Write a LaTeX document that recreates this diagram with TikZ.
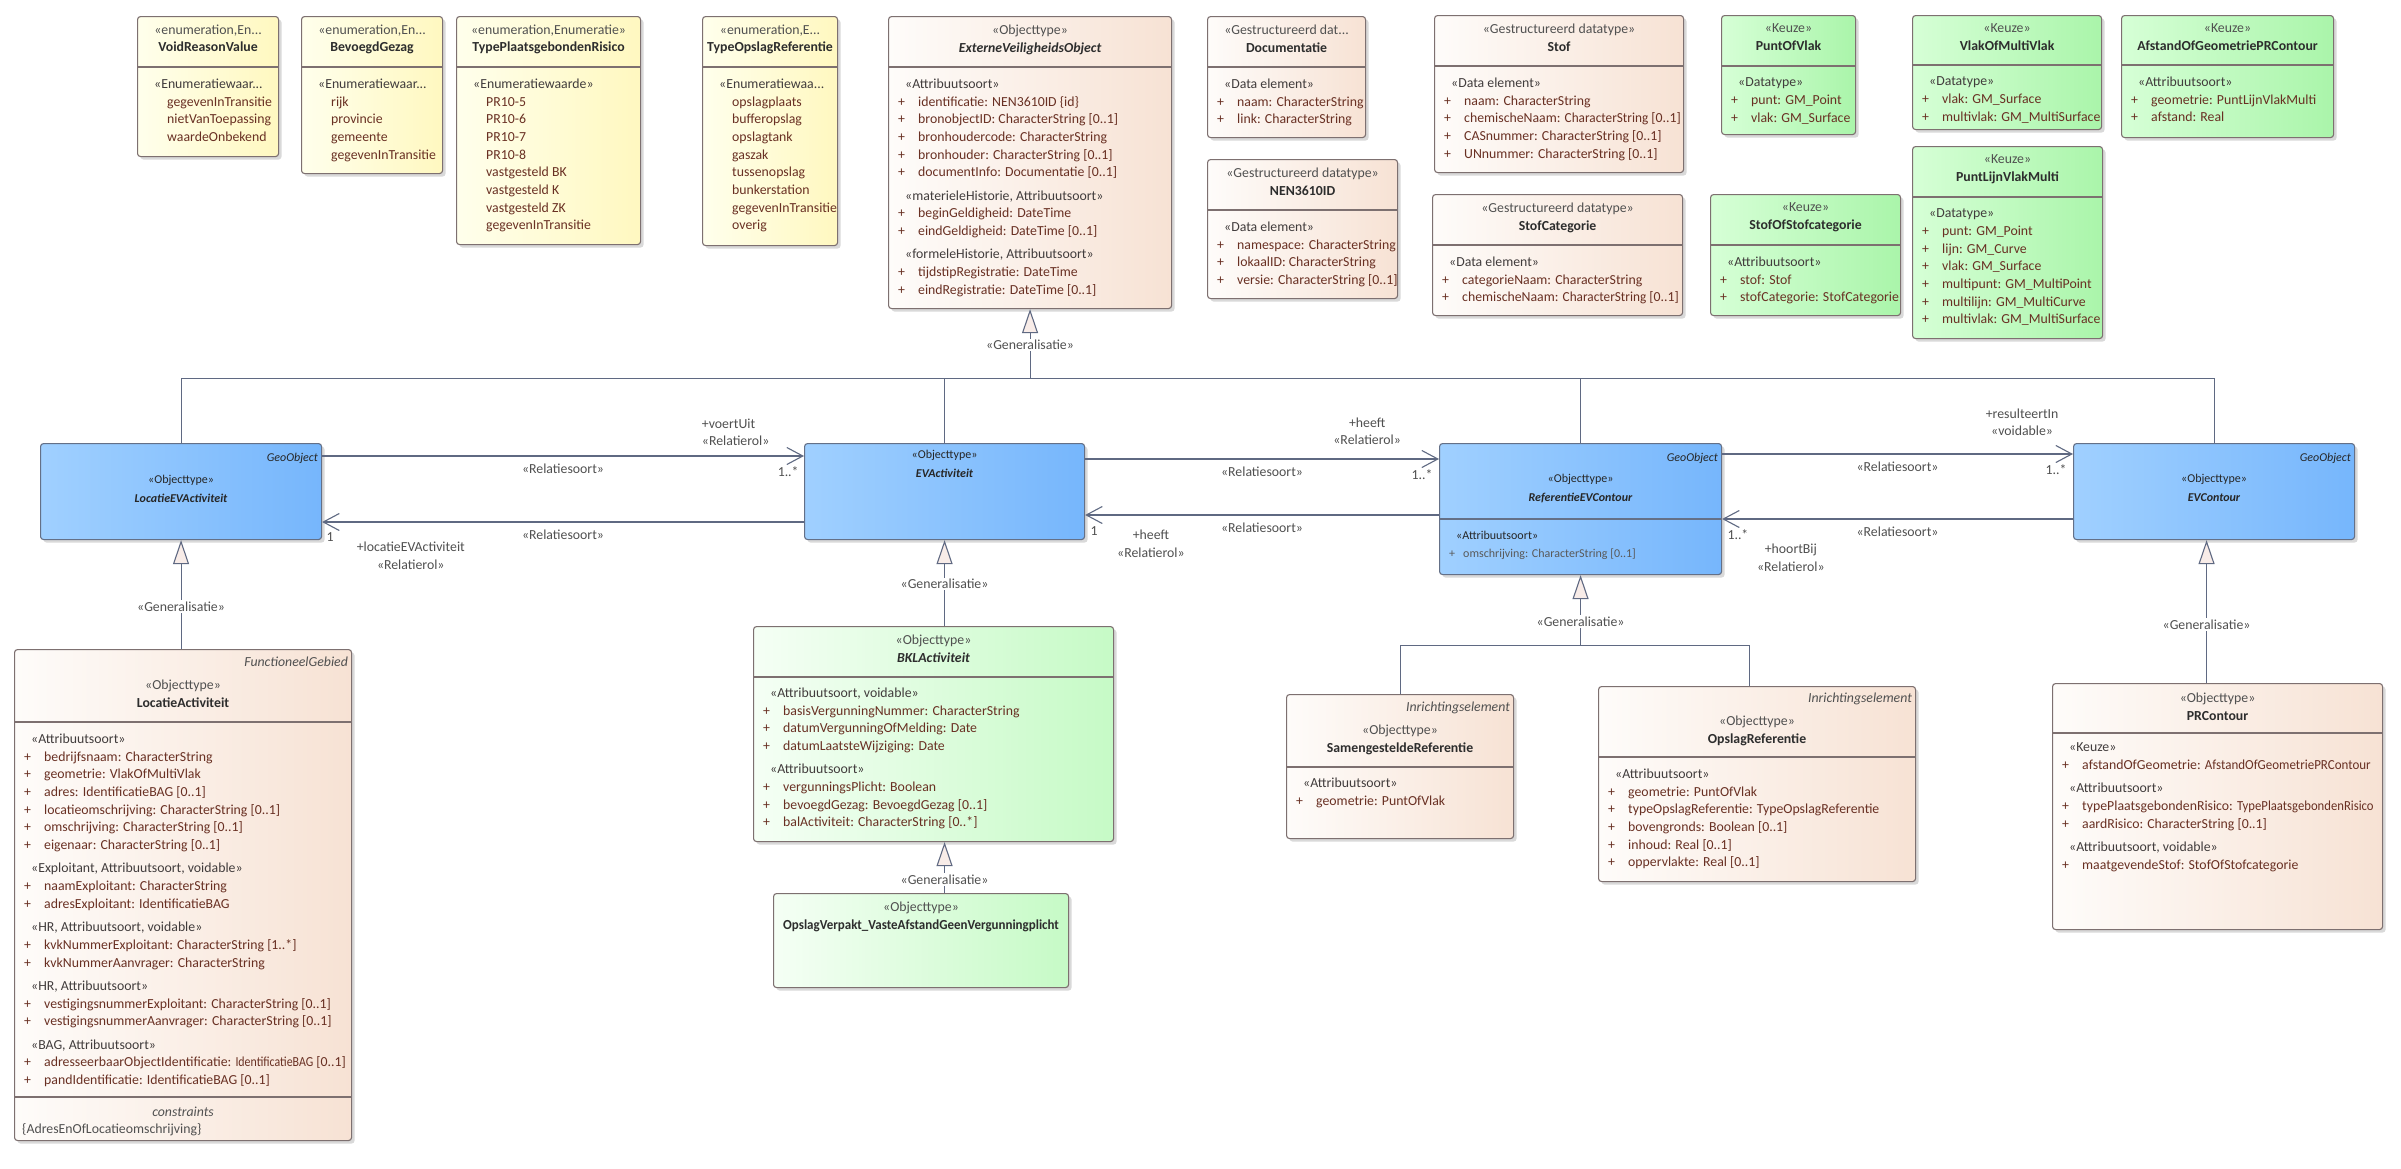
\documentclass[tikz,border=0pt]{standalone}
\usepackage{fontspec}
\setmainfont{Carlito}
\usepackage{xcolor}
\usetikzlibrary{arrows.meta, positioning, shadows}

\definecolor{enumL}{RGB}{255,255,236}
\definecolor{enumR}{RGB}{255,248,192}
\definecolor{typeL}{RGB}{254,252,250}
\definecolor{typeR}{RGB}{247,226,212}
\definecolor{keuzeL}{RGB}{214,255,214}
\definecolor{keuzeR}{RGB}{170,245,170}
\definecolor{bklL}{RGB}{245,255,245}
\definecolor{bklR}{RGB}{198,250,198}
\definecolor{blueL}{RGB}{160,208,255}
\definecolor{blueR}{RGB}{118,182,252}
\definecolor{boxline}{RGB}{125,112,112}
\definecolor{blueline}{RGB}{100,112,135}
\definecolor{connline}{RGB}{95,105,130}
\definecolor{attrcol}{RGB}{105,48,35}
\definecolor{grpcol}{RGB}{65,60,60}
\definecolor{stereocol}{RGB}{80,80,80}
\definecolor{namecol}{RGB}{45,45,45}
\definecolor{genfill}{RGB}{248,236,232}

\newcommand{\grpline}[1]{\hspace*{7pt}{\color{grpcol}#1}}
\newcommand{\attrline}[1]{\makebox[20pt][l]{+}#1}
\newcommand{\litline}[1]{\hspace*{20pt}#1}
\newcommand{\cname}[1]{{\color{namecol}\bfseries #1}}
\newcommand{\aname}[1]{{\color{namecol}\bfseries\itshape #1}}

\begin{document}
\begin{tikzpicture}[x=1pt, y=-1pt, font=\fontsize{13.8}{17.7}\selectfont]
\tikzstyle{box} = [rectangle, rounded corners=3pt, draw=boxline, line width=1.1pt, anchor=north west, inner sep=0pt, drop shadow={shadow xshift=3pt, shadow yshift=-3pt, opacity=0.15, fill=black}]
\tikzstyle{enumbox} = [box, left color=enumL, right color=enumR]
\tikzstyle{typebox} = [box, left color=typeL, right color=typeR]
\tikzstyle{keuzebox} = [box, left color=keuzeL, right color=keuzeR]
\tikzstyle{bklbox} = [box, left color=bklL, right color=bklR]
\tikzstyle{bluebox} = [box, draw=blueline, left color=blueL, right color=blueR]
\tikzstyle{head} = [anchor=north, yshift=12.25pt, align=center, inner sep=0pt, text=stereocol, font=\fontsize{13.8}{17.5}\selectfont, execute at begin node=\strut]
\tikzstyle{bluehead} = [anchor=north, yshift=13.3pt, align=center, inner sep=0pt, text=black!85, font=\fontsize{12}{19}\selectfont, execute at begin node=\strut]
\tikzstyle{attrs} = [anchor=north west, yshift=12.39pt, align=left, inner sep=0pt, text=attrcol, execute at begin node=\strut]
\tikzstyle{tagtext} = [anchor=base east, inner sep=0pt, text=stereocol, font=\fontsize{13.8}{17.7}\selectfont\itshape]
\tikzstyle{divider} = [draw=boxline, line width=1.1pt]
\tikzstyle{conn} = [draw=connline, line width=1.1pt]
\tikzstyle{assoc} = [conn, -{Straight Barb[length=16pt, width=17pt]}]
\tikzstyle{gen} = [conn, -{Triangle[length=24pt, width=16pt, fill=genfill]}]
\tikzstyle{genlabel} = [fill=white, inner sep=1.5pt, text=stereocol]
\tikzstyle{rolelabel} = [inner sep=1pt, text=stereocol, align=center]

\useasboundingbox [fill=white] (0,0) rectangle (2401,1168);

% enumerations
\node (voidreason) [enumbox, minimum width=141pt, minimum height=140pt] at (137,16) {};
\node (voidreasonhead) [head] at ([yshift=-21pt]voidreason.north) {«enumeration,En...\\\cname{VoidReasonValue}};
\draw [divider] ([yshift=-51pt]voidreason.north west) -- ([yshift=-51pt]voidreason.north east);
\node (voidreasonattr) [attrs] at ([xshift=10pt,yshift=-75pt]voidreason.north west) {\grpline{«Enumeratiewaar...}\\
  \litline{gegevenInTransitie}\\ \litline{nietVanToepassing}\\ \litline{waardeOnbekend}};

\node (bevoegd) [enumbox, minimum width=141pt, minimum height=157pt] at (301,16) {};
\node (bevoegdhead) [head] at ([yshift=-21pt]bevoegd.north) {«enumeration,En...\\\cname{BevoegdGezag}};
\draw [divider] ([yshift=-51pt]bevoegd.north west) -- ([yshift=-51pt]bevoegd.north east);
\node (bevoegdattr) [attrs] at ([xshift=10pt,yshift=-75pt]bevoegd.north west) {\grpline{«Enumeratiewaar...}\\
  \litline{rijk}\\ \litline{provincie}\\ \litline{gemeente}\\ \litline{gegevenInTransitie}};

\node (typepr) [enumbox, minimum width=184pt, minimum height=228pt] at (456,16) {};
\node (typeprhead) [head] at ([yshift=-21pt]typepr.north) {«enumeration,Enumeratie»\\\cname{TypePlaatsgebondenRisico}};
\draw [divider] ([yshift=-51pt]typepr.north west) -- ([yshift=-51pt]typepr.north east);
\node (typeprattr) [attrs] at ([xshift=10pt,yshift=-75pt]typepr.north west) {\grpline{«Enumeratiewaarde»}\\
  \litline{PR10-5}\\ \litline{PR10-6}\\ \litline{PR10-7}\\ \litline{PR10-8}\\ \litline{vastgesteld BK}\\
  \litline{vastgesteld K}\\ \litline{vastgesteld ZK}\\ \litline{gegevenInTransitie}};

\node (typeopslag) [enumbox, minimum width=135pt, minimum height=229pt] at (702,16) {};
\node (typeopslaghead) [head] at ([yshift=-21pt]typeopslag.north) {«enumeration,E...\\\cname{TypeOpslagReferentie}};
\draw [divider] ([yshift=-51pt]typeopslag.north west) -- ([yshift=-51pt]typeopslag.north east);
\node (typeopslagattr) [attrs] at ([xshift=10pt,yshift=-75pt]typeopslag.north west) {\grpline{«Enumeratiewaa...}\\
  \litline{opslagplaats}\\ \litline{bufferopslag}\\ \litline{opslagtank}\\ \litline{gaszak}\\ \litline{tussenopslag}\\
  \litline{bunkerstation}\\ \litline{gegevenInTransitie}\\ \litline{overig}};

% datatypes
\node (evo) [typebox, minimum width=283pt, minimum height=292pt] at (888,16) {};
\node (evohead) [head] at ([yshift=-21pt]evo.north) {«Objecttype»\\\aname{ExterneVeiligheidsObject}};
\draw [divider] ([yshift=-51pt]evo.north west) -- ([yshift=-51pt]evo.north east);
\node (evoattr) [attrs] at ([xshift=10pt,yshift=-75pt]evo.north west) {\grpline{«Attribuutsoort»}\\
  \attrline{identificatie: NEN3610ID \{id\}}\\
  \attrline{bronobjectID: CharacterString [0..1]}\\
  \attrline{bronhoudercode: CharacterString}\\
  \attrline{bronhouder: CharacterString [0..1]}\\
  \attrline{documentInfo: Documentatie [0..1]}\\[5.6pt]
  \grpline{«materieleHistorie, Attribuutsoort»}\\
  \attrline{beginGeldigheid: DateTime}\\
  \attrline{eindGeldigheid: DateTime [0..1]}\\[5.6pt]
  \grpline{«formeleHistorie, Attribuutsoort»}\\
  \attrline{tijdstipRegistratie: DateTime}\\
  \attrline{eindRegistratie: DateTime [0..1]}};

\node (documentatie) [typebox, minimum width=158pt, minimum height=121pt] at (1207,16) {};
\node (documentatiehead) [head] at ([yshift=-21pt]documentatie.north) {«Gestructureerd dat...\\\cname{Documentatie}};
\draw [divider] ([yshift=-51pt]documentatie.north west) -- ([yshift=-51pt]documentatie.north east);
\node (documentatieattr) [attrs] at ([xshift=10pt,yshift=-75pt]documentatie.north west) {\grpline{«Data element»}\\
  \attrline{naam: CharacterString}\\ \attrline{link: CharacterString}};

\node (nen) [typebox, minimum width=190pt, minimum height=139pt] at (1207,159) {};
\node (nenhead) [head] at ([yshift=-21pt]nen.north) {«Gestructureerd datatype»\\\cname{NEN3610ID}};
\draw [divider] ([yshift=-51pt]nen.north west) -- ([yshift=-51pt]nen.north east);
\node (nenattr) [attrs] at ([xshift=10pt,yshift=-75pt]nen.north west) {\grpline{«Data element»}\\
  \attrline{namespace: CharacterString}\\ \attrline{lokaalID: CharacterString}\\ \attrline{versie: CharacterString [0..1]}};

\node (stof) [typebox, minimum width=249pt, minimum height=157pt] at (1434,15) {};
\node (stofhead) [head] at ([yshift=-21pt]stof.north) {«Gestructureerd datatype»\\\cname{Stof}};
\draw [divider] ([yshift=-51pt]stof.north west) -- ([yshift=-51pt]stof.north east);
\node (stofattr) [attrs] at ([xshift=10pt,yshift=-75pt]stof.north west) {\grpline{«Data element»}\\
  \attrline{naam: CharacterString}\\ \attrline{chemischeNaam: \scalebox{0.96}[1]{CharacterString} [0..1]}\\
  \attrline{CASnummer: CharacterString [0..1]}\\ \attrline{UNnummer: CharacterString [0..1]}};

\node (stofcat) [typebox, minimum width=250pt, minimum height=121pt] at (1432,194) {};
\node (stofcathead) [head] at ([yshift=-21pt]stofcat.north) {«Gestructureerd datatype»\\\cname{StofCategorie}};
\draw [divider] ([yshift=-51pt]stofcat.north west) -- ([yshift=-51pt]stofcat.north east);
\node (stofcatattr) [attrs] at ([xshift=10pt,yshift=-75pt]stofcat.north west) {\grpline{«Data element»}\\
  \attrline{categorieNaam: CharacterString}\\ \attrline{chemischeNaam: \scalebox{0.96}[1]{CharacterString} [0..1]}};

% keuze
\node (puntofvlak) [keuzebox, minimum width=134pt, minimum height=119pt] at (1721,15) {};
\node (puntofvlakhead) [head] at ([yshift=-21pt]puntofvlak.north) {«Keuze»\\\cname{PuntOfVlak}};
\draw [divider] ([yshift=-51pt]puntofvlak.north west) -- ([yshift=-51pt]puntofvlak.north east);
\node (puntofvlakattr) [attrs] at ([xshift=10pt,yshift=-75pt]puntofvlak.north west) {\grpline{«Datatype»}\\
  \attrline{punt: GM\_Point}\\ \attrline{vlak: GM\_Surface}};

\node (vlakofmulti) [keuzebox, minimum width=189pt, minimum height=114pt] at (1912,15) {};
\node (vlakofmultihead) [head] at ([yshift=-21pt]vlakofmulti.north) {«Keuze»\\\cname{VlakOfMultiVlak}};
\draw [divider] ([yshift=-50pt]vlakofmulti.north west) -- ([yshift=-50pt]vlakofmulti.north east);
\node (vlakofmultiattr) [attrs] at ([xshift=10pt,yshift=-74pt]vlakofmulti.north west) {\grpline{«Datatype»}\\
  \attrline{vlak: GM\_Surface}\\ \attrline{multivlak: GM\_MultiSurface}};

\node (afstandpr) [keuzebox, minimum width=212pt, minimum height=122pt] at (2121,15) {};
\node (afstandprhead) [head] at ([yshift=-21pt]afstandpr.north) {«Keuze»\\\cname{AfstandOfGeometriePRContour}};
\draw [divider] ([yshift=-50pt]afstandpr.north west) -- ([yshift=-50pt]afstandpr.north east);
\node (afstandprattr) [attrs] at ([xshift=10pt,yshift=-74pt]afstandpr.north west) {\grpline{«Attribuutsoort»}\\
  \attrline{geometrie: PuntLijnVlakMulti}\\ \attrline{afstand: Real}};

\node (stofofcat) [keuzebox, minimum width=190pt, minimum height=121pt] at (1710,194) {};
\node (stofofcathead) [head] at ([yshift=-21pt]stofofcat.north) {«Keuze»\\\cname{StofOfStofcategorie}};
\draw [divider] ([yshift=-51pt]stofofcat.north west) -- ([yshift=-51pt]stofofcat.north east);
\node (stofofcatattr) [attrs] at ([xshift=10pt,yshift=-75pt]stofofcat.north west) {\grpline{«Attribuutsoort»}\\
  \attrline{stof: Stof}\\ \attrline{stofCategorie: StofCategorie}};

\node (puntlijn) [keuzebox, minimum width=190pt, minimum height=192pt] at (1912,146) {};
\node (puntlijnhead) [head] at ([yshift=-21pt]puntlijn.north) {«Keuze»\\\cname{PuntLijnVlakMulti}};
\draw [divider] ([yshift=-51pt]puntlijn.north west) -- ([yshift=-51pt]puntlijn.north east);
\node (puntlijnattr) [attrs] at ([xshift=10pt,yshift=-75pt]puntlijn.north west) {\grpline{«Datatype»}\\
  \attrline{punt: GM\_Point}\\ \attrline{lijn: GM\_Curve}\\ \attrline{vlak: GM\_Surface}\\
  \attrline{multipunt: GM\_MultiPoint}\\ \attrline{multilijn: GM\_MultiCurve}\\ \attrline{multivlak: GM\_MultiSurface}};

% objecttypes
\node (locev) [bluebox, minimum width=281pt, minimum height=96pt] at (40,443) {};
\node (locevtag) [tagtext, font=\fontsize{12}{14}\selectfont\itshape, text=black!85] at ([xshift=-4pt,yshift=-18pt]locev.north east) {GeoObject};
\node (locevhead) [bluehead] at ([yshift=-45pt]locev.north) {«Objecttype»\\\textbf{\itshape LocatieEVActiviteit}};

\node (evact) [bluebox, minimum width=280pt, minimum height=96pt] at (804,443) {};
\node (evacthead) [bluehead] at ([yshift=-20pt]evact.north) {«Objecttype»\\\textbf{\itshape EVActiviteit}};

\node (refev) [bluebox, minimum width=282pt, minimum height=131pt] at (1439,443) {};
\node (refevtag) [tagtext, font=\fontsize{12}{14}\selectfont\itshape, text=black!85] at ([xshift=-4pt,yshift=-18pt]refev.north east) {GeoObject};
\node (refevhead) [bluehead] at ([yshift=-44pt]refev.north) {«Objecttype»\\\textbf{\itshape ReferentieEVContour}};
\draw [divider, draw=blueline] ([yshift=-76pt]refev.north west) -- ([yshift=-76pt]refev.north east);
\node (refevattr) [attrs, yshift=0.2pt, text=black!65, font=\fontsize{12}{18}\selectfont] at ([xshift=10pt,yshift=-101pt]refev.north west) {\grpline{\color{black!85}«Attribuutsoort»}\\
  \makebox[14pt][l]{+}omschrijving: CharacterString [0..1]};

\node (evcontour) [bluebox, minimum width=281pt, minimum height=96pt] at (2073,443) {};
\node (evcontourtag) [tagtext, font=\fontsize{12}{14}\selectfont\itshape, text=black!85] at ([xshift=-4pt,yshift=-18pt]evcontour.north east) {GeoObject};
\node (evcontourhead) [bluehead] at ([yshift=-44pt]evcontour.north) {«Objecttype»\\\textbf{\itshape EVContour}};

% subtypes
\node (locact) [typebox, minimum width=337pt, minimum height=491pt] at (14,649) {};
\node (locacttag) [tagtext] at ([xshift=-4pt,yshift=-17pt]locact.north east) {FunctioneelGebied};
\node (locacthead) [head] at ([yshift=-43pt]locact.north) {«Objecttype»\\\cname{LocatieActiviteit}};
\draw [divider] ([yshift=-73pt]locact.north west) -- ([yshift=-73pt]locact.north east);
\node (locactattr) [attrs] at ([xshift=10pt,yshift=-97pt]locact.north west) {\grpline{«Attribuutsoort»}\\
  \attrline{bedrijfsnaam: CharacterString}\\
  \attrline{geometrie: VlakOfMultiVlak}\\
  \attrline{adres: IdentificatieBAG [0..1]}\\
  \attrline{locatieomschrijving: CharacterString [0..1]}\\
  \attrline{omschrijving: CharacterString [0..1]}\\
  \attrline{eigenaar: CharacterString [0..1]}\\[5.6pt]
  \grpline{«Exploitant, Attribuutsoort, voidable»}\\
  \attrline{naamExploitant: CharacterString}\\
  \attrline{adresExploitant: IdentificatieBAG}\\[5.6pt]
  \grpline{«HR, Attribuutsoort, voidable»}\\
  \attrline{kvkNummerExploitant: CharacterString [1..*]}\\
  \attrline{kvkNummerAanvrager: CharacterString}\\[5.6pt]
  \grpline{«HR, Attribuutsoort»}\\
  \attrline{vestigingsnummerExploitant: CharacterString [0..1]}\\
  \attrline{vestigingsnummerAanvrager: CharacterString [0..1]}\\[5.6pt]
  \grpline{«BAG, Attribuutsoort»}\\
  \attrline{adresseerbaarObjectIdentificatie: \scalebox{0.86}[1]{IdentificatieBAG} [0..1]}\\
  \attrline{pandIdentificatie: IdentificatieBAG [0..1]}};
\draw [divider] ([yshift=-448pt]locact.north west) -- ([yshift=-448pt]locact.north east);
\node (locactcons) [head, font=\fontsize{13.8}{17.5}\selectfont\itshape] at ([yshift=-467pt]locact.north) {constraints};
\node (locactrule) [attrs, text=stereocol] at ([xshift=8pt,yshift=-484pt]locact.north west) {\{AdresEnOfLocatieomschrijving\}};

\node (bkl) [bklbox, minimum width=360pt, minimum height=215pt] at (753,626) {};
\node (bklhead) [head] at ([yshift=-21pt]bkl.north) {«Objecttype»\\\aname{BKLActiviteit}};
\draw [divider] ([yshift=-51pt]bkl.north west) -- ([yshift=-51pt]bkl.north east);
\node (bklattr) [attrs] at ([xshift=10pt,yshift=-74pt]bkl.north west) {\grpline{«Attribuutsoort, voidable»}\\
  \attrline{basisVergunningNummer: CharacterString}\\
  \attrline{datumVergunningOfMelding: Date}\\
  \attrline{datumLaatsteWijziging: Date}\\[5.6pt]
  \grpline{«Attribuutsoort»}\\
  \attrline{vergunningsPlicht: Boolean}\\
  \attrline{bevoegdGezag: BevoegdGezag [0..1]}\\
  \attrline{balActiviteit: CharacterString [0..*]}};

\node (opslagverpakt) [bklbox, minimum width=295pt, minimum height=94pt] at (773,893) {};
\node (opslagverpakthead) [head] at ([yshift=-21pt]opslagverpakt.north) {«Objecttype»\\\cname{\scalebox{0.94}[1]{OpslagVerpakt\_VasteAfstandGeenVergunningplicht}}};

\node (samengesteld) [typebox, minimum width=227pt, minimum height=144pt] at (1286,694) {};
\node (samengesteldtag) [tagtext] at ([xshift=-4pt,yshift=-17pt]samengesteld.north east) {Inrichtingselement};
\node (samengesteldhead) [head] at ([yshift=-43pt]samengesteld.north) {«Objecttype»\\\cname{SamengesteldeReferentie}};
\draw [divider] ([yshift=-73pt]samengesteld.north west) -- ([yshift=-73pt]samengesteld.north east);
\node (samengesteldattr) [attrs] at ([xshift=10pt,yshift=-96pt]samengesteld.north west) {\grpline{«Attribuutsoort»}\\
  \attrline{geometrie: PuntOfVlak}};

\node (opslagref) [typebox, minimum width=317pt, minimum height=195pt] at (1598,686) {};
\node (opslagreftag) [tagtext] at ([xshift=-4pt,yshift=-16pt]opslagref.north east) {Inrichtingselement};
\node (opslagrefhead) [head] at ([yshift=-42pt]opslagref.north) {«Objecttype»\\\cname{OpslagReferentie}};
\draw [divider] ([yshift=-71pt]opslagref.north west) -- ([yshift=-71pt]opslagref.north east);
\node (opslagrefattr) [attrs] at ([xshift=10pt,yshift=-95pt]opslagref.north west) {\grpline{«Attribuutsoort»}\\
  \attrline{geometrie: PuntOfVlak}\\
  \attrline{typeOpslagReferentie: TypeOpslagReferentie}\\
  \attrline{bovengronds: Boolean [0..1]}\\
  \attrline{inhoud: Real [0..1]}\\
  \attrline{oppervlakte: Real [0..1]}};

\node (prcontour) [typebox, minimum width=330pt, minimum height=246pt] at (2052,683) {};
\node (prcontourhead) [head] at ([yshift=-22pt]prcontour.north) {«Objecttype»\\\cname{PRContour}};
\draw [divider] ([yshift=-50pt]prcontour.north west) -- ([yshift=-50pt]prcontour.north east);
\node (prcontourattr) [attrs] at ([xshift=10pt,yshift=-72pt]prcontour.north west) {\grpline{«Keuze»}\\
  \attrline{afstandOfGeometrie: \scalebox{0.94}[1]{AfstandOfGeometriePRContour}}\\[5.6pt]
  \grpline{«Attribuutsoort»}\\
  \attrline{typePlaatsgebondenRisico: \scalebox{0.92}[1]{TypePlaatsgebondenRisico}}\\
  \attrline{aardRisico: CharacterString [0..1]}\\[5.6pt]
  \grpline{«Attribuutsoort, voidable»}\\
  \attrline{maatgevendeStof: StofOfStofcategorie}};

% generalisaties
\coordinate (genbar) at ([yshift=-69pt]evo.south);
\draw [conn] (locev.north) |- (genbar) -| (evcontour.north);
\draw [conn] (evact.north) -- (evact.north |- genbar);
\draw [conn] (refev.north) -- (refev.north |- genbar);
\draw [gen] (genbar) -- node [genlabel, pos=0.48] (evogen) {«Generalisatie»} (evo.south);

\draw [gen] (locev.south |- locact.north) -- node [genlabel, pos=0.39] (locgen) {«Generalisatie»} (locev.south);
\draw [gen] (evact.south |- bkl.north) -- node [genlabel, pos=0.49] (bklgen) {«Generalisatie»} (evact.south);
\draw [gen] (evact.south |- opslagverpakt.north) -- node [genlabel, pos=0.27] (opslaggen) {«Generalisatie»} (evact.south |- bkl.south);

\coordinate (refjoin) at ([yshift=-70pt]refev.south);
\draw [conn] (samengesteld.north) |- (refjoin) -| ([xshift=-8pt]opslagref.north);
\draw [gen] (refjoin) -- node [genlabel, pos=0.34] (refgen) {«Generalisatie»} (refev.south);

\draw [gen] ([xshift=-11pt]prcontour.north) -- node [genlabel, pos=0.41] (prgen) {«Generalisatie»} ([xshift=-11pt]prcontour.north |- evcontour.south);

% relaties
\draw [assoc] ([yshift=-13pt]locev.north east) -- node [rolelabel, midway, below=6.5pt] (voertuitsoort) {«Relatiesoort»}
  node [rolelabel, pos=0.785, above=8.5pt, anchor=south west, align=left] (voertuitrol) {+voertUit\\«Relatierol»}
  node [rolelabel, pos=0.992, below=9.5pt, anchor=north east] (voertuitmult) {1..*} ([yshift=-13pt]evact.north west);
\draw [assoc] ([yshift=-79pt]evact.north west) -- node [rolelabel, midway, below=6.5pt] (locatiesoort) {«Relatiesoort»}
  node [rolelabel, pos=0.816, below=18.5pt] (locatierol) {+locatieEVActiviteit\\«Relatierol»}
  node [rolelabel, pos=0.994, below=9.5pt, anchor=north west] (locatiemult) {1} ([yshift=-79pt]locev.north east);

\draw [assoc] ([yshift=-16pt]evact.north east) -- node [rolelabel, midway, below=6.5pt] (heeftsoort) {«Relatiesoort»}
  node [rolelabel, pos=0.797, above=12.5pt] (heeftrol) {+heeft\\«Relatierol»}
  node [rolelabel, pos=0.986, below=9.5pt, anchor=north east] (heeftmult) {1..*} ([yshift=-16pt]refev.north west);
\draw [assoc] ([yshift=-72pt]refev.north west) -- node [rolelabel, midway, below=6.5pt] (terugsoort) {«Relatiesoort»}
  node [rolelabel, pos=0.814, below=13.5pt] (terugrol) {+heeft\\«Relatierol»}
  node [rolelabel, pos=0.989, below=10.5pt, anchor=north west] (terugmult) {1} ([yshift=-72pt]evact.north east);

\draw [assoc] ([yshift=-11pt]refev.north east) -- node [rolelabel, midway, below=6.5pt] (resulteertsoort) {«Relatiesoort»}
  node [rolelabel, pos=0.855, above=16.5pt] (resulteertrol) {+resulteertIn\\«voidable»}
  node [rolelabel, pos=0.986, below=9.5pt, anchor=north east] (resulteertmult) {1..*} ([yshift=-11pt]evcontour.north west);
\draw [assoc] ([yshift=-76pt]evcontour.north west) -- node [rolelabel, midway, below=6.5pt] (hoortbijsoort) {«Relatiesoort»}
  node [rolelabel, pos=0.804, below=23.5pt] (hoortbijrol) {+hoortBij\\«Relatierol»}
  node [rolelabel, pos=0.989, below=9.5pt, anchor=north west] (hoortbijmult) {1..*} ([yshift=-76pt]refev.north east);

\end{tikzpicture}
\end{document}
